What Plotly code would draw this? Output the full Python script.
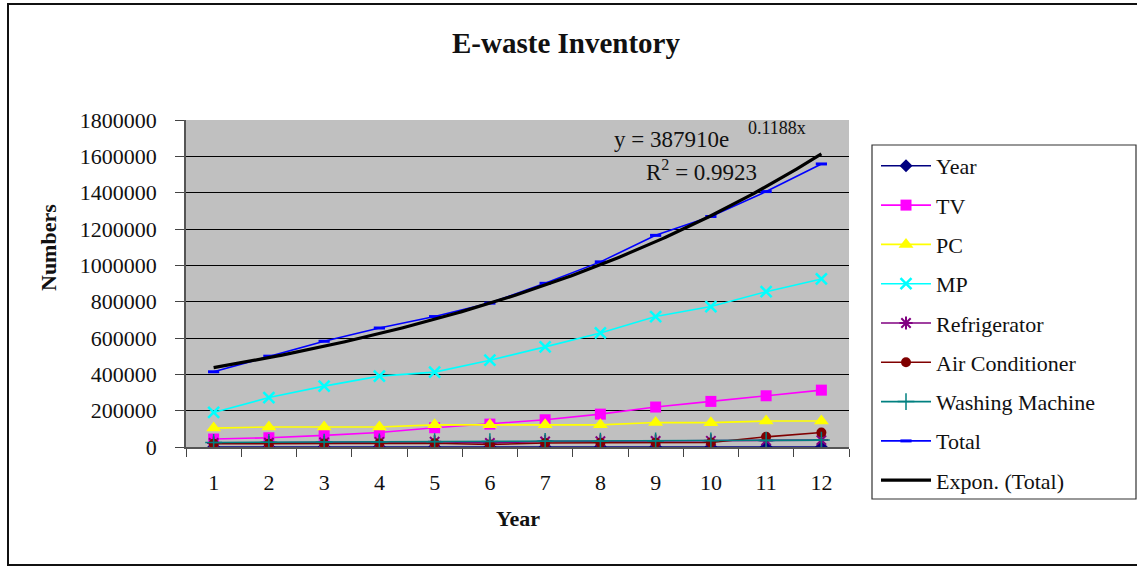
import numpy as np
import plotly.graph_objects as go

# ---- data -------------------------------------------------------------
years = [1, 2, 3, 4, 5, 6, 7, 8, 9, 10, 11, 12]
year_series = [1, 2, 3, 4, 5, 6, 7, 8, 9, 10, 11, 12]
tv = [44000, 51000, 64000, 80000, 106000, 126000, 150000, 181000, 220000, 251000, 282000, 313000]
pc = [104000, 110000, 110000, 110000, 122000, 122000, 122000, 122000, 135000, 134000, 143000, 143000]
mp = [190000, 272000, 335000, 390000, 412000, 478000, 551000, 628000, 718000, 773000, 855000, 925000]
refrigerator = [22000, 24000, 26000, 28000, 29000, 22000, 31000, 32000, 33000, 34000, 36000, 38000]
air_conditioner = [18000, 18000, 19000, 20000, 21000, 14000, 22000, 23000, 24000, 25000, 56000, 80000]
washing_machine = [25000, 26000, 27000, 28000, 29000, 30000, 31000, 32000, 33000, 34000, 36000, 38000]
total = [414000, 500000, 582000, 655000, 718000, 792000, 901000, 1019000, 1165000, 1269000, 1406000, 1558000]

# exponential trendline of Total: y = a * exp(b * x)
trend_a = 387910
trend_b = 0.1188
trend_r2 = 0.9923

y_ticks = [0, 200000, 400000, 600000, 800000, 1000000, 1200000, 1400000, 1600000, 1800000]

# ---- geometry (pixels) ------------------------------------------------
W, H = 1137, 567
L, R, T, B = 186, 288, 120, 120
PW, PH = W - L - R, H - T - B


def px(x):
    return (x - L) / PW


def py(y):
    return (H - B - y) / PH


SERIF = "Liberation Serif, Times New Roman, serif"
TXT = "#111111"
FS = 22

fig = go.Figure()

series = [
    ("Year", year_series, "#000080", dict(symbol="diamond", size=10, color="#000080")),
    ("TV", tv, "#FF00FF", dict(symbol="square", size=11, color="#FF00FF")),
    ("PC", pc, "#FFFF00", dict(symbol="triangle-up", size=13, color="#FFFF00")),
    ("MP", mp, "#00FFFF", dict(symbol="x-thin", size=11, color="#00FFFF",
                               line=dict(width=2.5, color="#00FFFF"))),
    ("Refrigerator", refrigerator, "#800080", dict(symbol="asterisk", size=11, color="#800080",
                                                   line=dict(width=2, color="#800080"))),
    ("Air Conditioner", air_conditioner, "#800000", dict(symbol="circle", size=10, color="#800000")),
    ("Washing Machine", washing_machine, "#008080", dict(symbol="cross-thin", size=12, color="#008080",
                                                         line=dict(width=1.5, color="#008080"))),
    ("Total", total, "#0000FF", dict(symbol="line-ew", size=8, color="#0000FF",
                                     line=dict(width=3, color="#0000FF"))),
]

for i, (name, vals, col, mk) in enumerate(series):
    fig.add_trace(go.Scatter(
        x=years, y=vals, name=name, mode="lines+markers",
        line=dict(color=col, width=1.6), marker=mk,
        legendgroup=f"g{i}",
    ))

trend_x = np.linspace(years[0], years[-1], 200)
trend_y = trend_a * np.exp(trend_b * trend_x)
fig.add_trace(go.Scatter(
    x=trend_x, y=trend_y, name="Expon. (Total)", mode="lines",
    line=dict(color="#000000", width=3.2), legendgroup="g_trend",
))

fig.update_layout(
    width=W, height=H,
    margin=dict(l=L, r=R, t=T, b=B),
    paper_bgcolor="white",
    plot_bgcolor="#C0C0C0",
    font=dict(family=SERIF, size=FS, color=TXT),
    showlegend=True,
    legend=dict(
        x=px(876), y=py(145), xanchor="left", yanchor="top",
        bgcolor="rgba(0,0,0,0)", borderwidth=0,
        font=dict(family=SERIF, size=FS, color=TXT),
        tracegroupgap=7.7, itemwidth=50, traceorder="grouped",
        maxheight=520,
    ),
)

fig.update_xaxes(
    range=[0.5, 12.5], tickmode="array", tickvals=years,
    ticktext=[str(v) for v in years], ticks="",
    showgrid=False, zeroline=False,
    showline=True, linecolor="#555555", linewidth=1.5,
    tickfont=dict(family=SERIF, size=FS, color=TXT),
    ticklabelstandoff=15,
    minor=dict(tick0=0.5, dtick=1, ticks="outside", ticklen=8,
               tickcolor="#444444", tickwidth=1.2, showgrid=False),
)

fig.update_yaxes(
    range=[0, 1800000], tickmode="array", tickvals=y_ticks,
    ticktext=[str(v) for v in y_ticks],
    ticks="outside", ticklen=9, tickcolor="#444444", tickwidth=1.2,
    showgrid=True, gridcolor="#000000", gridwidth=1,
    zeroline=False, showline=True, linecolor="#555555", linewidth=1.5,
    tickfont=dict(family=SERIF, size=FS, color=TXT),
    ticklabelstandoff=14,
)

# legend box and outer frame
fig.add_shape(type="rect", xref="paper", yref="paper",
              x0=px(872), x1=px(1136), y0=py(499), y1=py(145),
              line=dict(color="#333333", width=1.2), fillcolor="white", layer="below")
fig.add_shape(type="rect", xref="paper", yref="paper",
              x0=px(8), x1=px(1140), y0=py(565), y1=py(4),
              line=dict(color="#111111", width=2), fillcolor="rgba(0,0,0,0)")

annotations = [
    dict(text="<b>E-waste Inventory</b>", x=px(566), y=py(43), xanchor="center", yanchor="middle",
         font=dict(family=SERIF, size=29, color=TXT)),
    dict(text="<b>Numbers</b>", x=px(48), y=py(248), xanchor="center", yanchor="middle",
         textangle=-90, font=dict(family=SERIF, size=FS, color=TXT)),
    dict(text="<b>Year</b>", x=px(518), y=py(518), xanchor="center", yanchor="middle",
         font=dict(family=SERIF, size=FS, color=TXT)),
    dict(text=f"y = {trend_a}e", x=px(612), y=py(139), xanchor="left", yanchor="middle",
         font=dict(family=SERIF, size=23, color=TXT)),
    dict(text=f"{trend_b}x", x=px(746), y=py(128), xanchor="left", yanchor="middle",
         font=dict(family=SERIF, size=18, color=TXT)),
    dict(text=f"R<sup>2</sup> = {trend_r2}", x=px(644), y=py(170), xanchor="left", yanchor="middle",
         font=dict(family=SERIF, size=23, color=TXT)),
]
for a in annotations:
    a.update(xref="paper", yref="paper", showarrow=False)
fig.update_layout(annotations=annotations)

fig.write_html("out.html")
